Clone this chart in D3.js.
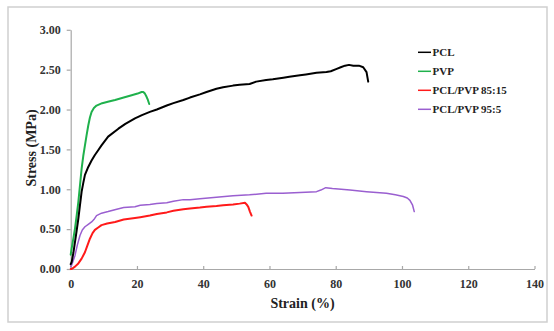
<!DOCTYPE html>
<html><head><meta charset="utf-8">
<script src="https://cdn.jsdelivr.net/npm/d3@7/dist/d3.min.js"></script>
<style>body{margin:0;background:#fff;} svg{display:block;}</style>
</head><body>
<svg id="c" width="554" height="331"></svg>
<script>
const seriesNames = ["PCL", "PVP", "PCL/PVP 85:15", "PCL/PVP 95:5"];
const seriesColors = ["#000000", "#1fb14c", "#ff1a1a", "#9a5fd0"];
const xTicks = [0, 20, 40, 60, 80, 100, 120, 140];
const yTicks = [0, 0.5, 1.0, 1.5, 2.0, 2.5, 3.0];

const pclStrain = [0, 0.3, 0.8, 1.3, 1.8, 2.3, 2.8, 3.3, 3.8, 4.3, 5.3, 6.3, 7.3, 8.3, 9.3, 11.3, 14.4, 16.5, 19.4, 21.5, 23.9, 26, 29, 31, 34, 36, 39, 41, 44, 46, 49, 51, 54, 56, 59, 61, 64.2, 66, 69.2, 71, 74.2, 77.2, 78.5, 80.3, 81.5, 82.8, 84, 85.3, 87, 88.3, 89.3, 89.8];
const pclStress = [0.06, 0.09, 0.20, 0.34, 0.48, 0.63, 0.80, 0.97, 1.08, 1.18, 1.28, 1.36, 1.43, 1.49, 1.55, 1.66, 1.76, 1.82, 1.89, 1.93, 1.97, 2.00, 2.05, 2.08, 2.12, 2.15, 2.19, 2.22, 2.26, 2.28, 2.30, 2.31, 2.32, 2.35, 2.37, 2.38, 2.40, 2.41, 2.43, 2.44, 2.46, 2.47, 2.48, 2.51, 2.53, 2.55, 2.56, 2.55, 2.55, 2.53, 2.47, 2.35];

const pvpStrain = [0, 0.3, 0.8, 1.3, 1.8, 2.3, 2.8, 3.3, 3.8, 4.3, 4.8, 5.3, 5.8, 6.3, 7.0, 7.8, 9.5, 11.5, 13.4, 16, 18.4, 20.2, 21.4, 21.9, 22.4, 22.9, 23.3, 23.7];
const pvpStress = [0.18, 0.26, 0.38, 0.51, 0.67, 0.84, 1.05, 1.26, 1.42, 1.55, 1.68, 1.80, 1.90, 1.97, 2.02, 2.05, 2.08, 2.10, 2.12, 2.15, 2.18, 2.20, 2.22, 2.22, 2.20, 2.16, 2.12, 2.07];

const b85Strain = [0, 0.3, 1.3, 2.3, 3.3, 4.3, 5.0, 5.8, 6.6, 7.3, 8.3, 9.3, 11, 13.4, 16, 19.4, 21, 23.9, 26, 29, 31, 34, 36, 39, 41, 44, 46, 49, 51, 52.6, 53.1, 53.6, 54.1, 54.6];
const b85Stress = [0, 0.0, 0.03, 0.07, 0.13, 0.21, 0.29, 0.38, 0.45, 0.49, 0.52, 0.55, 0.57, 0.59, 0.62, 0.64, 0.65, 0.67, 0.69, 0.71, 0.73, 0.75, 0.76, 0.77, 0.78, 0.79, 0.80, 0.81, 0.82, 0.83, 0.81, 0.78, 0.72, 0.67];

const b95Strain = [0, 0.3, 1.3, 2.0, 2.8, 3.5, 4.3, 5.3, 6.3, 7.0, 7.8, 9.3, 11.3, 13.9, 16, 19.4, 21, 23.9, 26, 29, 31, 34, 36, 39, 44, 49, 54, 59, 64, 69.2, 74.2, 75.5, 77, 79, 84.3, 89.3, 95.3, 98, 100.4, 101.6, 102.4, 103.2, 103.7];
const b95Stress = [0.03, 0.05, 0.17, 0.30, 0.42, 0.49, 0.53, 0.56, 0.59, 0.62, 0.67, 0.70, 0.72, 0.75, 0.77, 0.78, 0.80, 0.81, 0.82, 0.83, 0.85, 0.87, 0.87, 0.88, 0.90, 0.92, 0.93, 0.95, 0.95, 0.96, 0.97, 0.99, 1.02, 1.01, 0.99, 0.97, 0.95, 0.93, 0.91, 0.89, 0.86, 0.80, 0.72];

const strains = [pclStrain, pvpStrain, b85Strain, b95Strain];
const stresses = [pclStress, pvpStress, b85Stress, b95Stress];
const widths = [2, 2, 2, 1.5];

const svg = d3.select("#c");
const font = "'Liberation Serif', 'Times New Roman', serif";

svg.append("rect").attr("x", 8).attr("y", 7).attr("width", 539).attr("height", 315)
  .attr("fill", "#fff").attr("stroke", "#cfcfcf").attr("stroke-width", 1.5);

const x = d3.scaleLinear().domain([0, 140]).range([70.7, 534.5]);
const y = d3.scaleLinear().domain([0, 3]).range([269, 29.8]);

const gx = svg.append("g").attr("transform", `translate(0,${y(0)})`)
  .call(d3.axisBottom(x).tickValues(xTicks).tickFormat(d3.format("d")).tickSizeInner(-3).tickSizeOuter(0).tickPadding(10));
const gy = svg.append("g").attr("transform", `translate(${x(0)},0)`)
  .call(d3.axisLeft(y).tickValues(yTicks).tickFormat(d3.format(".2f")).tickSizeInner(4).tickSizeOuter(0).tickPadding(6));
[gx, gy].forEach(g => {
  g.select(".domain").attr("stroke", "#a8a8a8").attr("stroke-width", 1.2);
  g.selectAll(".tick line").attr("stroke", "#a8a8a8").attr("stroke-width", 1.2);
  g.selectAll(".tick text").attr("font-family", font).attr("font-weight", "bold")
    .attr("font-size", 12).attr("fill", "#333");
});

[3, 2, 1, 0].forEach(i => {
  const pts = strains[i].map((s, k) => [s, stresses[i][k]]);
  svg.append("path").datum(pts).attr("d", d3.line().x(d => x(d[0])).y(d => y(d[1])).curve(d3.curveLinear))
    .attr("fill", "none").attr("stroke", seriesColors[i]).attr("stroke-width", widths[i])
    .attr("stroke-linejoin", "round").attr("stroke-linecap", "round");
});

svg.append("text").attr("transform", `translate(31,148) rotate(-90)`).attr("text-anchor", "middle")
  .attr("dominant-baseline", "central")
  .attr("font-family", font).attr("font-weight", "bold").attr("font-size", 14).attr("fill", "#222")
  .text("Stress (MPa)");
svg.append("text").attr("x", 302.5).attr("y", 308).attr("text-anchor", "middle")
  .attr("font-family", font).attr("font-weight", "bold").attr("font-size", 14).attr("fill", "#222")
  .text("Strain (%)");

const leg = svg.append("g");
seriesNames.forEach((n, i) => {
  const yy = 52.3 + i * 19;
  leg.append("line").attr("x1", 418).attr("x2", 431).attr("y1", yy).attr("y2", yy)
    .attr("stroke", seriesColors[i]).attr("stroke-width", 1.5);
  leg.append("text").attr("x", 432.5).attr("y", yy).attr("dominant-baseline", "central")
    .attr("font-family", font).attr("font-weight", "bold").attr("font-size", 11).attr("fill", "#222")
    .text(n);
});
</script>
</body></html>
